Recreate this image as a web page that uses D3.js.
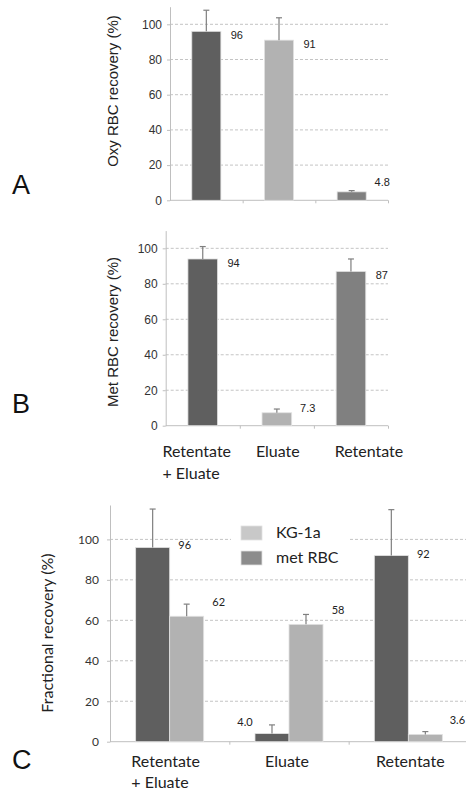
<!DOCTYPE html>
<html>
<head>
<meta charset="utf-8">
<script src="https://cdn.jsdelivr.net/npm/d3@7"></script>
<style>
	body { margin: 0; background: #fff; }
	svg { display: block; }
</style>
</head>
<body>
<svg width="466" height="790"></svg>
<script>
// categories shared by all three panels
const categories = ["Retentate + Eluate", "Eluate", "Retentate"];
const categoryLines = [["Retentate", "+ Eluate"], ["Eluate"], ["Retentate"]];
const yTicks = [0, 20, 40, 60, 80, 100];

// panel A - oxy RBC
const oxyValues = [96, 91, 4.8];
const oxyErrors = [12, 12.7, 0.7];
const oxyLabels = ["96", "91", "4.8"];

// panel B - met RBC
const metValues = [94, 7.3, 87];
const metErrors = [7, 2.1, 7];
const metLabels = ["94", "7.3", "87"];

// panel C - fractional recovery
const fracSeries = ["met RBC", "KG-1a"];
const fracMetValues = [96, 4.0, 92];
const fracMetErrors = [19, 4.3, 22.7];
const fracMetLabels = ["96", "4.0", "92"];
const fracKgValues = [62, 58, 3.6];
const fracKgErrors = [6, 4.9, 1.4];
const fracKgLabels = ["62", "58", "3.6"];
const legendItems = ["KG-1a", "met RBC"];

const barColours = ["#5f5f5f", "#b2b2b2", "#808080"];
const seriesColours = { "met RBC": "#5f5f5f", "KG-1a": "#b2b2b2" };
const legendColours = { "KG-1a": "#c8c8c8", "met RBC": "#8c8c8c" };

const svg = d3.select("svg");
const axisColour = "#bfbfbf";
const arial = "Liberation Sans, Arial, sans-serif";
const calibri = "Lato, Carlito, sans-serif";

function drawFrame(g, x, y, opts) {
	// dashed gridlines
	g.append("g")
		.selectAll("line")
		.data(yTicks.filter((t) => t > 0))
		.join("line")
		.attr("x1", x.range()[0])
		.attr("x2", opts.gridEnd)
		.attr("y1", (d) => y(d))
		.attr("y2", (d) => y(d))
		.attr("stroke", "#c4c4c4")
		.attr("stroke-dasharray", "3,2");

	g.append("g")
		.attr("transform", "translate(" + x.range()[0] + ",0)")
		.call(
			d3.axisLeft(y)
				.tickValues(yTicks)
				.tickSize(3)
				.tickSizeOuter(0)
				.tickPadding(opts.tickPad)
		)
		.call((a) => a.selectAll("line, path").attr("stroke", axisColour))
		.call((a) =>
			a.selectAll("text")
				.attr("font-family", opts.tickFont)
				.attr("font-size", opts.tickSize)
				.attr("fill", "#333")
		);

	let xl = d3.scaleLinear().domain([0, 3]).range(x.range());
	g.append("g")
		.attr("transform", "translate(0," + y(0) + ")")
		.call(
			d3.axisBottom(xl)
				.tickValues([1, 2, 3])
				.tickFormat("")
				.tickSize(3)
				.tickSizeOuter(0)
		)
		.call((a) => a.select(".domain").attr("d", "M" + x.range()[0] + ",0H" + opts.gridEnd))
		.call((a) => a.selectAll("line, path").attr("stroke", axisColour));

	// y title
	g.append("text")
		.attr("transform", "translate(" + opts.titleX + "," + opts.titleY + ") rotate(-90)")
		.attr("text-anchor", "middle")
		.attr("font-family", opts.titleFont)
		.attr("font-size", opts.titleSize)
		.attr("fill", "#222")
		.text(opts.title);

	// panel letter
	g.append("text")
		.attr("x", 12)
		.attr("y", opts.letterY)
		.attr("font-family", arial)
		.attr("font-size", 27)
		.attr("fill", "#111")
		.text(opts.letter);
}

function drawCategories(g, x, baseY, shifts) {
	categoryLines.forEach((lines, i) => {
		let t = g.append("text")
			.attr("font-family", calibri)
			.attr("font-size", 16)
			.attr("fill", "#222");
		lines.forEach((line, j) => {
			t.append("tspan").attr("y", baseY + j * 21.5).text(line);
		});
		let w = t.select("tspan").node().getComputedTextLength();
		let cx = x(categories[i]) + x.bandwidth() / 2 + shifts[i];
		t.selectAll("tspan").attr("x", cx - w / 2);
	});
}

function errorBar(g, cx, y, v, e) {
	g.append("line")
		.attr("x1", cx).attr("x2", cx)
		.attr("y1", y(v)).attr("y2", y(v + e))
		.attr("stroke", "#7f7f7f").attr("stroke-width", 1.2);
	g.append("line")
		.attr("x1", cx - 3).attr("x2", cx + 3)
		.attr("y1", y(v + e)).attr("y2", y(v + e))
		.attr("stroke", "#7f7f7f").attr("stroke-width", 1.2);
}

function simplePanel(opts) {
	let g = svg.append("g");
	let x = d3.scaleBand().domain(categories).range(opts.xRange);
	let y = d3.scaleLinear().domain([0, 110]).range(opts.yRange);
	drawFrame(g, x, y, {
		gridEnd: opts.xRange[1],
		tickPad: 5,
		tickFont: arial,
		tickSize: 12,
		title: opts.title,
		titleFont: arial,
		titleSize: 15,
		titleX: 118,
		titleY: opts.titleY,
		letter: opts.letter,
		letterY: opts.letterY,
	});
	let bw = x.bandwidth() * 0.4;
	categories.forEach((c, i) => {
		let cx = x(c) + x.bandwidth() / 2;
		g.append("rect")
			.attr("x", cx - bw / 2)
			.attr("y", y(opts.values[i]))
			.attr("width", bw)
			.attr("height", y(0) - y(opts.values[i]))
			.attr("fill", barColours[i])
			.attr("stroke", "#e2e2e2")
			.attr("stroke-width", 0.8);
		errorBar(g, cx, y, opts.values[i], opts.errors[i]);
		g.append("text")
			.attr("x", cx + bw / 2 + 16)
			.attr("y", Math.min(y(opts.values[i]) + 8, y(0) - 14))
			.attr("text-anchor", "middle")
			.attr("font-family", arial)
			.attr("font-size", 11)
			.attr("fill", "#222")
			.text(opts.labels[i]);
	});
	if (opts.showCats) drawCategories(g, x, 457, [-6, 1, 18]);
}

simplePanel({
	xRange: [170, 388],
	yRange: [200.3, 6.7],
	values: oxyValues,
	errors: oxyErrors,
	labels: oxyLabels,
	title: "Oxy RBC recovery (%)",
	titleY: 91,
	letter: "A",
	letterY: 194,
	showCats: false,
});

simplePanel({
	xRange: [165.7, 388],
	yRange: [425.7, 230.6],
	values: metValues,
	errors: metErrors,
	labels: metLabels,
	title: "Met RBC recovery (%)",
	titleY: 332,
	letter: "B",
	letterY: 413,
	showCats: true,
});

// panel C - grouped bars
function groupedPanel() {
	let g = svg.append("g");
	let x = d3.scaleBand().domain(categories).range([110, 468]);
	let y = d3.scaleLinear().domain([0, 117]).range([741.7, 505]);
	drawFrame(g, x, y, {
		gridEnd: 466,
		tickPad: 8,
		tickFont: calibri,
		tickSize: 12,
		title: "Fractional recovery (%)",
		titleFont: calibri,
		titleSize: 16,
		titleX: 53,
		titleY: 633,
		letter: "C",
		letterY: 769,
	});
	let inner = d3.scaleBand().domain(fracSeries).range([0, x.bandwidth() * 0.57]);
	let series = {
		"met RBC": { v: fracMetValues, e: fracMetErrors, l: fracMetLabels },
		"KG-1a": { v: fracKgValues, e: fracKgErrors, l: fracKgLabels },
	};
	categories.forEach((c, i) => {
		let start = x(c) + x.bandwidth() / 2 - inner.range()[1] / 2;
		fracSeries.forEach((s, k) => {
			let v = series[s].v[i];
			let bx = start + inner(s);
			let bw = inner.bandwidth();
			g.append("rect")
				.attr("x", bx)
				.attr("y", y(v))
				.attr("width", bw)
				.attr("height", y(0) - y(v))
				.attr("fill", seriesColours[s])
				.attr("stroke", "#e2e2e2")
				.attr("stroke-width", 0.8);
			errorBar(g, bx + bw / 2, y, v, series[s].e[i]);
			// label goes left when the neighbouring bar is taller
			let other = series[fracSeries[1 - k]].v[i];
			let left = k === 0 && other > v;
			let ly = k === 0 ? y(v) + 2 : y(v) - 10;
			g.append("text")
				.attr("x", left ? bx - 10 : bx + bw + 15)
				.attr("y", Math.min(ly, y(0) - 16))
				.attr("text-anchor", "middle")
				.attr("font-family", calibri)
				.attr("font-size", 11)
				.attr("fill", "#222")
				.text(series[s].l[i]);
		});
	});

	// legend
	let lg = g.append("g");
	lg.append("rect")
		.attr("x", 231).attr("y", 518)
		.attr("width", 119).attr("height", 54)
		.attr("fill", "#fff");
	legendItems.forEach((s, i) => {
		lg.append("rect")
			.attr("x", 241).attr("y", 526 + i * 25)
			.attr("width", 21).attr("height", 14)
			.attr("fill", legendColours[s])
			.attr("stroke", "#e2e2e2")
			.attr("stroke-width", 0.8);
		lg.append("text")
			.attr("x", 276).attr("y", 538 + i * 25)
			.attr("font-family", calibri)
			.attr("font-size", 16)
			.attr("fill", "#222")
			.text(s);
	});

	drawCategories(g, x, 766.5, [-4, -2, 2]);
}

groupedPanel();
</script>
</body>
</html>
